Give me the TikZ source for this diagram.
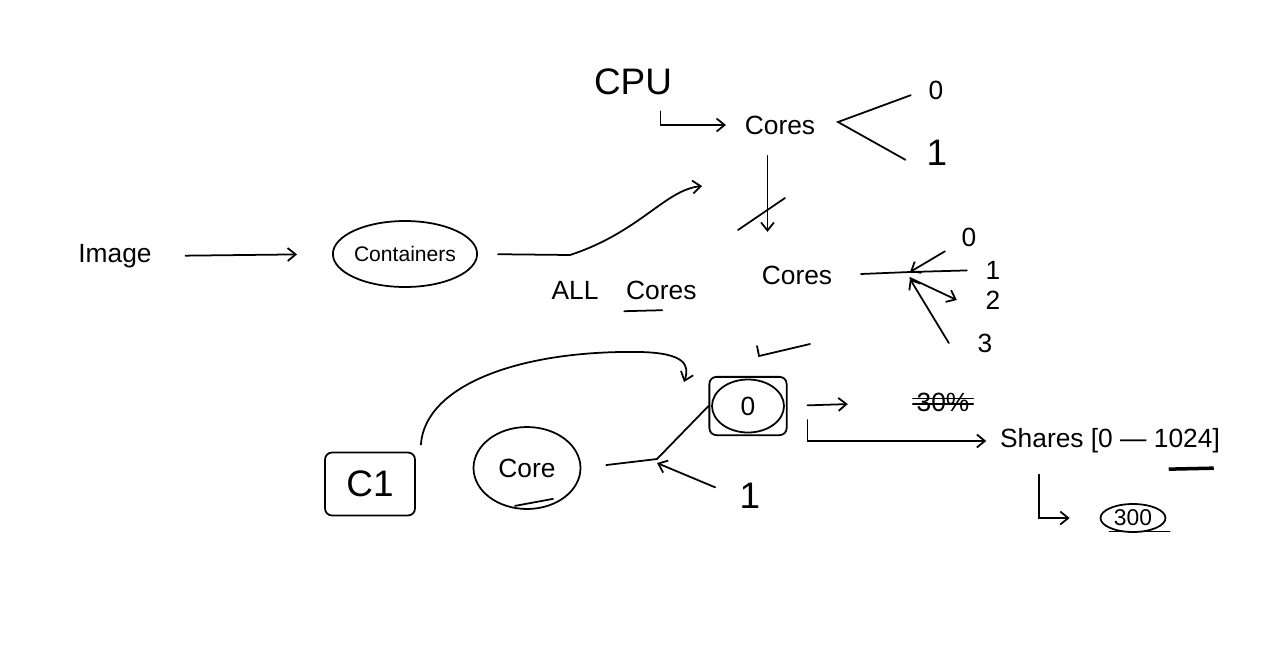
\documentclass[tikz,border=0pt]{standalone}
\usepackage{fontspec}
\setmainfont{Liberation Sans}
\usepackage{tikz}
\usetikzlibrary{arrows.meta, positioning, calc, fit, shapes.geometric}
\tikzset{
  texto/.style={inner sep=2pt, font=\fontsize{15}{18}\selectfont},
  grande/.style={texto, font=\fontsize{21}{25}\selectfont},
  globo/.style={texto, draw, ellipse, line width=1pt, inner sep=0pt},
  caja/.style={draw, rounded corners=4pt, line width=1pt},
  linea/.style={line width=1pt, line cap=round},
  flecha/.style={linea, -{Straight Barb[length=1.6mm, width=2.6mm]}},
}

\begin{document}
\begin{tikzpicture}[x=0.02cm, y=-0.02cm]
  \useasboundingbox (0,0) rectangle (1262,667);
  % cpu and its cores
  \node[grande] (cpu) at (633,82) {CPU};
  \node[texto] (cores1) at (780,125) {Cores};
  \node[texto] (u0) at (936,90) {0};
  \node[grande] (u1) at (937,153) {1};
  \coordinate (v1) at (838,122);
  \draw[flecha, shorten <=0.25cm, shorten >=0.3cm] ([xshift=0.55cm]cpu.south) |- (cores1.west);
  \draw[linea, shorten <=0.3cm, shorten >=0.4cm] (u0.west) -- (v1) -- (u1.south west);
  % all cores
  \node[texto] (cores2) at (797,275) {Cores};
  \draw[flecha, shorten <=0.35cm, shorten >=0.6cm] ([xshift=-0.25cm]cores1.south) -- ([xshift=-0.25cm]cores1.south |- cores2.north);
  \draw[linea] (738,230) -- (785,198);
  \node[texto] (d0) at (969,237) {0};
  \node[texto] (d1) at (993,270) {1};
  \node[texto] (d2) at (993,300) {2};
  \node[texto] (d3) at (985,343) {3};
  \coordinate (j) at (910,272);
  \draw[linea, shorten <=0.5cm] (cores2.east) -- (j);
  \draw[flecha, shorten <=0.3cm] (d0) -- (j);
  \draw[linea, shorten >=0.3cm] (j) -- (d1.west);
  \draw[flecha] ([yshift=-0.12cm]j) -- ([xshift=-0.5cm]d2.west);
  \draw[flecha] ([xshift=-0.5cm]d3.west) -- ([yshift=-0.14cm]j);
  % image and containers
  \node[texto] (image) at (115,256) {Image};
  \node[globo, font=\fontsize{12}{14}\selectfont, minimum width=2.6cm, minimum height=1.32cm] (contenedores) at (405,254) {Containers};
  \draw[flecha, shorten <=0.6cm, shorten >=0.7cm] (image.east) -- (contenedores.west);
  \coordinate (meta) at (702,186);
  \draw[flecha, shorten <=0.4cm] (contenedores.east) -- (570,255) .. controls (640,232) and (665,190) .. (meta);
  \node[texto] (todos) at (575,290) {ALL};
  \node[texto, right=0.4cm of todos] (nucleos) {Cores};
  \draw[linea] ($(nucleos.south west)+(2,8)$) -- ++(38,-1);
  \draw[linea] (757,346) -- (759,356) -- (810,344);
  % core zero
  \node[globo, minimum width=1.44cm, minimum height=1.06cm] (cero) at (748,406) {0};
  \node[caja, fit=(cero), inner sep=1pt] (marco) {};
  \node[texto] (treinta) at (943,402) {30\%};
  \draw[linea] ([yshift=2pt]treinta.west) -- ([yshift=2pt]treinta.east);
  \draw[linea] ([yshift=-1pt]treinta.west) -- ([yshift=-1pt]treinta.east);
  \draw[flecha, shorten <=0.4cm, shorten >=1.3cm] (marco.east) -- (treinta.west);
  \node[texto] (shares) at (1110,441) {Shares [0 --- 1024]};
  \draw[flecha, shorten >=0.2cm] ([xshift=0.4cm, yshift=-0.28cm]marco.east) |- (shares.west);
  \draw[line width=2pt] ($(shares.south east)+(-55,12)$) -- ++(45,-1);
  \node[globo, font=\fontsize{13}{15}\selectfont, minimum width=1.3cm, minimum height=0.56cm] (trescientos) at (1133,518) {300};
  \draw[flecha, shorten <=0.35cm, shorten >=0.6cm] ([xshift=0.85cm]shares.south west) |- (trescientos.west);
  \draw[linea] ($(trescientos.south west)+(0,3)$) -- ($(trescientos.south east)+(13,3)$);
  % c1 and core
  \node[caja, grande, minimum width=1.8cm, minimum height=1.26cm] (ce) at (370,484) {C1};
  \coordinate (llegada) at (684,382);
  \draw[flecha] ([xshift=0.1cm, yshift=0.14cm]ce.north east) .. controls (425,385) and (520,350) .. (640,352) .. controls (685,353) and (690,365) .. (llegada);
  \node[globo, minimum width=2.14cm, minimum height=1.64cm] (core) at (527,468) {Core};
  \draw[linea] ($(core.south)+(-12,-4)$) -- ++(38,-7);
  \coordinate (codo) at (657,459);
  \draw[linea, shorten <=0.5cm] (core.east) -- (codo) -- (marco.west);
  \node[grande] (u2) at (750,496) {1};
  \draw[flecha, shorten <=0.45cm] (u2.west) -- ([yshift=-0.08cm]codo);
\end{tikzpicture}
\end{document}
